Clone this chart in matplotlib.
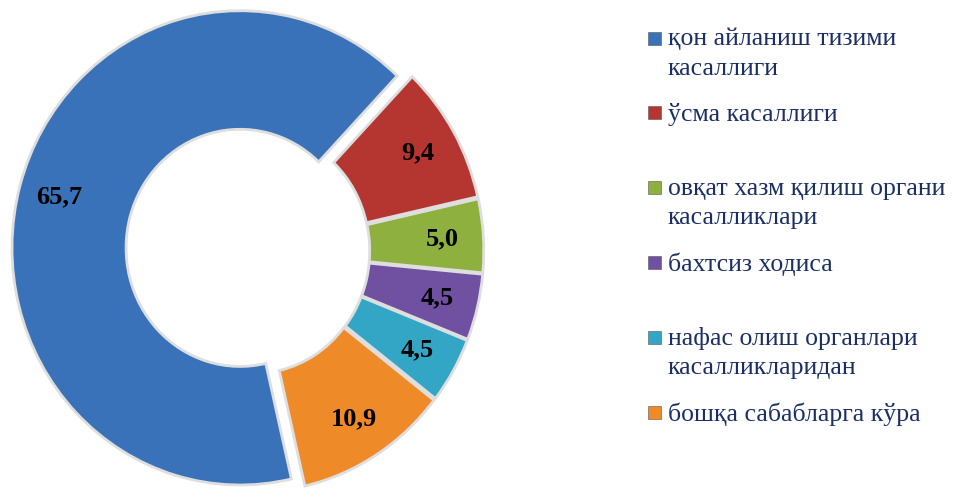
import numpy as np
import matplotlib.pyplot as plt
from matplotlib.patches import Rectangle

# ------------------------------------------------------------------ data
categories = [
    "қон айланиш тизими\nкасаллиги",
    "ўсма касаллиги",
    "овқат хазм қилиш органи\nкасалликлари",
    "бахтсиз ходиса",
    "нафас олиш органлари\nкасалликларидан",
    "бошқа сабабларга кўра",
]
shares = [65.7, 9.4, 5.0, 4.5, 4.5, 10.9]
colors = ["#3a72b9", "#b53531", "#8db03f", "#7050a0", "#33a6c6", "#ef8a28"]
explode = [0.05, 0.02, 0.02, 0.02, 0.02, 0.02]

serif = ["Liberation Serif", "DejaVu Serif"]
text_color = "#1b2f66"

fig = plt.figure(figsize=(9.59, 4.97), dpi=100)

# ------------------------------------------------------------- donut
# the source picture is a bit taller than wide, so the axes is not square
ax = fig.add_axes([0.0121, -0.006, 0.4995, 1.002])
wedges, _ = ax.pie(
    shares,
    colors=colors,
    explode=explode,
    startangle=-77,
    counterclock=False,
    radius=1.0,
    wedgeprops=dict(width=0.5, edgecolor="#dedede", linewidth=2),
)
ax.set_xlim(-1.05, 1.05)
ax.set_ylim(-1.05, 1.05)
ax.set_aspect("auto")
ax.axis("off")

for w, val, ex in zip(wedges, shares, explode):
    mid = np.deg2rad((w.theta1 + w.theta2) / 2)
    r = 0.82 + ex
    ax.text(r * np.cos(mid), r * np.sin(mid), f"{val:.1f}".replace(".", ","),
            ha="center", va="center", fontsize=19, fontweight="bold",
            family=serif, color="black")

# ------------------------------------------------------------- legend
y_first = 1 - 38 / 497
step = 74.8 / 497
for i, (lab, c) in enumerate(zip(categories, colors)):
    y = y_first - i * step
    fig.patches.append(Rectangle((648 / 959, y - 6.5 / 497), 13 / 959, 13 / 497,
                                 transform=fig.transFigure, facecolor=c,
                                 edgecolor="#555555", linewidth=0.4))
    fig.text(668 / 959, y + 10 / 497, lab, ha="left", va="top",
             fontsize=18.5, family=serif, color=text_color, linespacing=1.42)

fig.savefig("out.png", dpi=100)
